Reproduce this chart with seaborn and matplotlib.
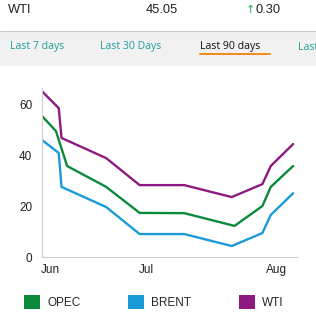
import pandas as pd
import matplotlib.pyplot as plt
import seaborn as sns
from matplotlib.patches import Patch, Rectangle
from matplotlib.lines import Line2D

# Prices over the last 90 days (day index from start of period)
days = [0, 6, 7, 23, 35, 51, 68, 79, 82, 90]
opec_days = [0, 5, 9, 23, 35, 51, 69, 79, 82, 90]
opec = [55.3, 49.4, 35.7, 27.5, 17.3, 17.2, 12.2, 20.0, 27.5, 35.7]
brent = [45.9, 40.8, 27.5, 19.6, 9.0, 9.0, 4.3, 9.4, 16.5, 25.0]
wti = [65.0, 58.4, 46.7, 38.8, 28.2, 28.2, 23.5, 28.6, 35.7, 44.3]

series = ["OPEC", "BRENT", "WTI"]
colors = ["#0b8a3e", "#1b9ad8", "#8c1a80"]
month_ticks = [3, 37.6, 84]
month_labels = ["Jun", "Jul", "Aug"]

df = pd.concat([
    pd.DataFrame({"day": opec_days, "price": opec, "series": "OPEC"}),
    pd.DataFrame({"day": days, "price": brent, "series": "BRENT"}),
    pd.DataFrame({"day": days, "price": wti, "series": "WTI"}),
])

sns.set_style("white")
plt.rcParams["font.family"] = ["Liberation Sans", "DejaVu Sans"]

W = 316
fig = plt.figure(figsize=(3.16, 3.16), dpi=100)

def fx(px):
    return px / W

def fy(py):
    return 1 - py / W

# header band
fig.patches.append(Rectangle((0, fy(66)), 1, fy(31) - fy(66), transform=fig.transFigure,
                             facecolor="#f1f1f1", edgecolor="none", zorder=0))
fig.lines.append(Line2D([0, 1], [fy(31), fy(31)], transform=fig.transFigure,
                        color="#c8c8c8", lw=0.8))
fig.text(fx(8), fy(10), "WTI", fontsize=9.3, va="center", color="#222222")
fig.text(fx(146), fy(10), "45.05", fontsize=9.3, va="center", color="#222222")
fig.text(fx(246), fy(10), "\u2191", fontsize=8, va="center", color="#2ca24a",
         family=["DejaVu Sans"])
fig.text(fx(256), fy(10), "0.30", fontsize=9.3, va="center", color="#222222")

tab_font = ["Open Sans", "DejaVu Sans"]
fig.text(fx(10), fy(47), "Last 7 days", fontsize=7.6, va="center", color="#1f9e9a", family=tab_font)
fig.text(fx(100), fy(47), "Last 30 Days", fontsize=7.6, va="center", color="#1f9e9a", family=tab_font)
fig.text(fx(200), fy(47), "Last 90 days", fontsize=7.6, va="center", color="#111111", family=tab_font)
fig.text(fx(298), fy(47), "Last", fontsize=7.6, va="center", color="#1f9e9a", family=tab_font)
fig.lines.append(Line2D([fx(200), fx(270)], [fy(53.5), fy(53.5)], transform=fig.transFigure,
                        color="#f28a1c", lw=1.4))

# chart
ax = fig.add_axes([fx(42), fy(257), fx(297) - fx(42), fy(88) - fy(257)])
ax.patch.set_alpha(0)
sns.lineplot(data=df, x="day", y="price", hue="series", hue_order=series,
             palette=colors, linewidth=1.7, ax=ax, legend=False)
ax.set_xlim(0, 91.4)
ax.set_ylim(0, 66.3)
ax.set_yticks([0, 20, 40, 60])
ax.set_xticks(month_ticks)
ax.set_xticklabels(month_labels)
ax.set_xlabel("")
ax.set_ylabel("")
ax.tick_params(length=0, labelsize=8.5, colors="#222222")
ax.tick_params(axis="y", pad=7)
ax.tick_params(axis="x", pad=5)
for s in ["top", "right"]:
    ax.spines[s].set_visible(False)
for s in ["left", "bottom"]:
    ax.spines[s].set_color("#cccccc")
    ax.spines[s].set_linewidth(0.8)

handles = [Patch(facecolor=c, edgecolor="none", label=n) for n, c in zip(series, colors)]
fig.legend(handles=handles, loc="center left", bbox_to_anchor=(fx(19), fy(302)),
           ncol=3, frameon=False, fontsize=8.5, handlelength=1.4, handleheight=1.4,
           handletextpad=0.6, columnspacing=4.0, borderaxespad=0)

fig.savefig("out.png", dpi=100)
